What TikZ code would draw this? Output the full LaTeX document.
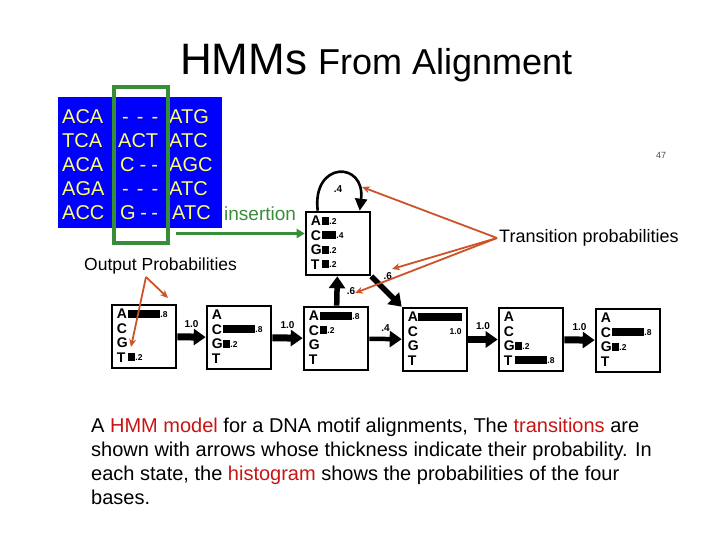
\documentclass[tikz,border=0pt]{standalone}
\usepackage{fontspec}
\setmainfont{Liberation Sans}
\usetikzlibrary{arrows.meta,calc}
\definecolor{alnblue}{RGB}{0,0,255}
\definecolor{alnyellow}{RGB}{255,255,110}
\definecolor{insgreen}{RGB}{56,142,56}
\definecolor{noteorange}{RGB}{204,82,40}
\definecolor{hilite}{RGB}{200,20,20}
\newcommand\fs[1]{\fontsize{#1}{#1}\selectfont}
\newcommand\hmmstate[3]{%
  \node[statebox] (#1) at (#2+32,#3+31.5) {};
  \foreach \L [count=\i from 0] in {A,C,G,T}
    \node[baselabel] (#1-\L) at ($(#1.north west)+(6,10+14.5*\i)$) {\L};
}
\newcommand\pbar[4]{%
  \fill ($(#1.north west)+(17,6+14.5*#2)$) rectangle ++(#3,8);
  \node[problabel] (#1-p#2) at ($(#1.north west)+(17.5+#3,10.5+14.5*#2)$) {#4};
}
\begin{document}
\begin{tikzpicture}[x=1pt,y=-1pt,
  statebox/.style={draw, line width=2.6pt, minimum width=64pt, minimum height=63pt, inner sep=0pt},
  baselabel/.style={font=\fs{14}\bfseries, inner sep=0pt, anchor=west},
  problabel/.style={font=\fs{8.5}\bfseries, inner sep=0pt, anchor=west},
  tlabel/.style={font=\fs{10}\bfseries, inner sep=1pt},
  tarrow/.style={line width=#1, -{Triangle[length=12pt,width=16pt]}},
  alntext/.style={font=\fs{20}, text=alnyellow, inner sep=0pt, anchor=west, text height=14.3pt, text depth=0pt},
  notearrow/.style={draw=noteorange, line width=1.8pt, -{Stealth[length=8pt,width=7pt]}},
  notetext/.style={font=\fs{#1}, inner sep=0pt, anchor=west},
  bodytext/.style={font=\fs{20}, inner sep=0pt, anchor=base west}
]
\useasboundingbox (0,0) rectangle (720,540);

% title
\node[font=\fs{44}, inner sep=0pt, anchor=base west] (t1) at (180,75) {HMMs};
\node[font=\fs{36}, inner sep=0pt, anchor=base west] (t2) at (318,75) {From Alignment};

% alignment
\node[fill=alnblue, minimum width=164pt, minimum height=131pt, inner sep=0pt] (aln) at (140,162.5) {};
\foreach \l/\m/\mx/\r/\rx [count=\i from 0] in {
  ACA/{-\hspace{8pt}-\hspace{8pt}-}/122/ATG/169,
  TCA/ACT/118/ATC/169,
  ACA/{C\hspace{5pt}-\hspace{5pt}-}/120/AGC/169,
  AGA/{-\hspace{8pt}-\hspace{8pt}-}/122/ATC/169,
  ACC/{G\hspace{4.5pt}-\hspace{4.5pt}-}/120/ATC/172}{
  \node[alntext] (al\i) at (62,116+24*\i) {\l};
  \node[alntext] (am\i) at (\mx,116+24*\i) {\m};
  \node[alntext] (ar\i) at (\rx,116+24*\i) {\r};
}
\node[draw=insgreen, line width=4pt, minimum width=54pt, minimum height=156pt, inner sep=0pt] (col) at (140.5,165) {};
\node[font=\fs{19}, text=insgreen, inner sep=0pt, anchor=west] (instext) at (224,214) {insertion};

% states
\hmmstate{ins}{306}{212}
\hmmstate{b1}{112}{305}
\hmmstate{b2}{207}{306}
\hmmstate{b3}{304}{307}
\hmmstate{b4}{403}{308}
\hmmstate{b5}{499}{308}
\hmmstate{b6}{596}{309}

\pbar{ins}{0}{7}{.2}\pbar{ins}{1}{14}{.4}\pbar{ins}{2}{7}{.2}\pbar{ins}{3}{7}{.2}
\pbar{b1}{0}{32}{.8}\pbar{b1}{3}{7}{.2}
\pbar{b2}{1}{32}{.8}\pbar{b2}{2}{7}{.2}
\pbar{b3}{0}{32}{.8}\pbar{b3}{1}{7}{.2}
\fill ($(b4.north west)+(16,6)$) rectangle ++(44,8);
\node[problabel, anchor=east] (b4-p0) at ($(b4.north west)+(60,25)$) {1.0};
\pbar{b5}{2}{7}{.2}\pbar{b5}{3}{32}{.8}
\pbar{b6}{1}{32}{.8}\pbar{b6}{2}{7}{.2}

% green insertion arrow
\coordinate (gEnd) at ($(ins.west)+(0,-10)$);
\coordinate (gBase) at (col.east |- gEnd);
\draw[draw=insgreen, line width=3pt, -{Triangle[length=8pt,width=9pt]}] ($(gBase)+(6,0)$) -- (gEnd);

% transitions
\draw[tarrow=7pt] (b1) -- node[tlabel, above=5pt] (l12) {1.0} (b2);
\draw[tarrow=7pt] (b2) -- node[tlabel, above=5pt] (l23) {1.0} (b3);
\draw[tarrow=4.5pt] (b3) -- node[tlabel, above=4pt] (l34) {.4} (b4);
\draw[tarrow=7pt] (b4) -- node[tlabel, above=5pt] (l45) {1.0} (b5);
\draw[tarrow=7pt] (b5) -- node[tlabel, above=5pt] (l56) {1.0} (b6);
\draw[tarrow=5.5pt] (b3) -- node[tlabel, right=6pt] (l3i) {.6} (ins);
\draw[tarrow=5.5pt] (ins.south east) -- node[tlabel, pos=0.25, anchor=south west, inner sep=2pt] (li4) {.6} (b4.north west);
\coordinate (ls) at ($(ins.north west)+(13,0)$);
\coordinate (le) at ($(ins.north west)+(55,0)$);
\draw[line width=2.6pt, -{Triangle[length=12pt,width=12pt]}] (ls) .. controls ($(ls)+(-6,-50)$) and ($(le)+(6,-50)$) .. (le);
\node[tlabel] (lp) at ($(ins.north)+(0,-22)$) {.4};

% annotations
\node[notetext=18] (tp) at (499,238) {Transition probabilities};
\coordinate (tpS) at ($(tp.west)+(-2,0)$);
\coordinate (tg1) at (362,187);
\coordinate (tg2) at (392,269);
\coordinate (tg3) at (355,293);
\draw[notearrow] (tpS) -- (tg1);
\draw[notearrow] (tpS) -- (tg2);
\draw[notearrow] (tpS) -- (tg3);

\node[notetext=17.5] (op) at (84,266) {Output Probabilities};
\coordinate (opS) at (146,277);
\coordinate (og1) at (131,347);
\coordinate (og2) at (168,298);
\draw[notearrow] (opS) -- (og1);
\draw[notearrow] (opS) -- (og2);

\node[font=\fs{9}, text=black!70, inner sep=0pt] (pg) at (661,155) {47};

% caption
\node[bodytext] (c1) at (91,432) {A \textcolor{hilite}{HMM model} for a DNA motif alignments, The \textcolor{hilite}{transitions} are};
\node[bodytext] (c2) at (91,456) {shown with arrows whose thickness indicate their probability. In};
\node[bodytext] (c3) at (91,480) {each state, the \textcolor{hilite}{histogram} shows the probabilities of the four};
\node[bodytext] (c4) at (91,504) {bases.};
\end{tikzpicture}
\end{document}
